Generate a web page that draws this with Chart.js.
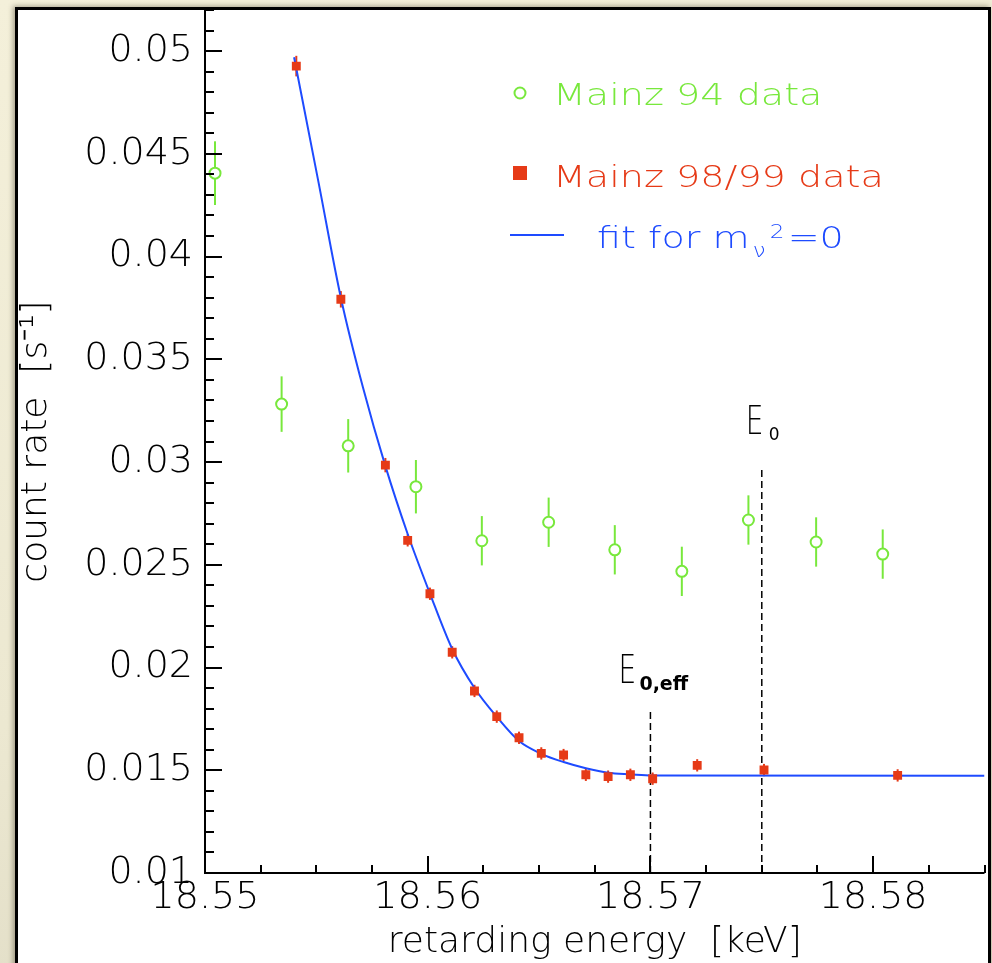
<!DOCTYPE html>
<html>
<head>
<meta charset="utf-8">
<script src="https://cdn.jsdelivr.net/npm/chart.js@4.4.1/dist/chart.umd.min.js"></script>
<style>
  html, body { margin: 0; padding: 0; }
  body {
    width: 992px; height: 963px; overflow: hidden; position: relative;
    background: linear-gradient(160deg, #f4f0da 0%, #ece8d1 55%, #d8d4be 100%);
  }
  #frame {
    position: absolute; left: 15px; top: 7px; width: 976px; height: 990px;
    box-sizing: border-box; border: 3px solid #000; background: #fff;
    box-shadow: -2px -1px 5px rgba(70, 65, 45, 0.45);
  }
  #plot { position: absolute; left: 0; top: 0; }
</style>
</head>
<body>
<div id="frame"></div>
<canvas id="plot" width="992" height="963"></canvas>
<script>
// Mainz 94 data (open circles)
const m94Energy = [18.55045, 18.55344, 18.55643, 18.55947, 18.56243, 18.56543, 18.5684, 18.57141, 18.5744, 18.57744, 18.58043];
const m94Rate   = [0.04406, 0.03282, 0.03079, 0.0288, 0.02617, 0.02707, 0.02573, 0.02468, 0.02718, 0.02611, 0.02552];
const m94Err    = [0.00155, 0.00135, 0.0013, 0.0013, 0.0012, 0.0012, 0.0012, 0.0012, 0.0012, 0.0012, 0.0012];

// Mainz 98/99 data (filled squares)
const m98Energy = [18.5541, 18.5561, 18.5581, 18.5591, 18.5601, 18.5611, 18.5621, 18.5631, 18.5641,
                   18.5651, 18.5661, 18.5671, 18.5681, 18.5691, 18.5701, 18.5721, 18.5751, 18.5811];
const m98Rate   = [0.04927, 0.03792, 0.02985, 0.02619, 0.02359, 0.02074, 0.01886, 0.01761, 0.01658,
                   0.01582, 0.01574, 0.01478, 0.01469, 0.01478, 0.01459, 0.01524, 0.01501, 0.01475];
const m98Err    = [0.0005, 0.0004, 0.00035, 0.0003, 0.0003, 0.0003, 0.0003, 0.0003, 0.0003,
                   0.0003, 0.0003, 0.0003, 0.0003, 0.0003, 0.0003, 0.0003, 0.0003, 0.0003];

// fit curve for m_nu^2 = 0
const fitEnergy = [18.5540, 18.5551, 18.5561, 18.5571, 18.5581, 18.5591, 18.5601, 18.5611, 18.5621,
                   18.5631, 18.5641, 18.5651, 18.5661, 18.5671, 18.5681, 18.5691, 18.5701, 18.5850];
const fitRate   = [0.0497, 0.0436, 0.0380, 0.0336, 0.0298, 0.0265, 0.0236, 0.0209, 0.0190,
                   0.0176, 0.01642, 0.0158, 0.0154, 0.0151, 0.01488, 0.0148, 0.01474, 0.01473];

// endpoint markers E0,eff and E0
const markerEnergy = [18.570, 18.575];
const markerTop    = [0.0180, 0.0298];
const markerSub    = ['0,eff', '0'];

// axes
const xTickValues = [18.55, 18.56, 18.57, 18.58];
const xTickLabels = ['18.55', '18.56', '18.57', '18.58'];
const yTickValues = [0.01, 0.015, 0.02, 0.025, 0.03, 0.035, 0.04, 0.045, 0.05];
const yTickLabels = ['0.01', '0.015', '0.02', '0.025', '0.03', '0.035', '0.04', '0.045', '0.05'];
const X_MIN = 18.55, X_MAX = 18.585, Y_MIN = 0.01, Y_MAX = 0.052;

const GREEN = '#78e83c';
const RED = '#e63a17';
const BLUE = '#1e4bff';
const FAMILY = "'DejaVu Sans', sans-serif";

const toPoints = (xs, ys) => xs.map((x, i) => ({ x: x, y: ys[i] }));

// vertical error bars, drawn under the markers
const errorBars = {
  id: 'errorBars',
  beforeDatasetsDraw(chart) {
    const { ctx, scales: { x, y } } = chart;
    chart.data.datasets.forEach(ds => {
      if (!ds.errors) return;
      ctx.save();
      ctx.strokeStyle = ds.borderColor;
      ctx.lineWidth = 2;
      ds.data.forEach((p, i) => {
        const px = x.getPixelForValue(p.x);
        ctx.beginPath();
        ctx.moveTo(px, y.getPixelForValue(p.y - ds.errors[i]));
        ctx.lineTo(px, y.getPixelForValue(p.y + ds.errors[i]));
        ctx.stroke();
      });
      ctx.restore();
    });
  }
};

// axis lines with inward ticks
const rootAxes = {
  id: 'rootAxes',
  afterDatasetsDraw(chart) {
    const { ctx, chartArea: a, scales: { x, y } } = chart;
    ctx.save();
    ctx.strokeStyle = '#000';
    ctx.lineWidth = 2;
    ctx.beginPath();
    ctx.moveTo(a.left, a.top);
    ctx.lineTo(a.left, a.bottom);
    ctx.lineTo(a.right, a.bottom);
    for (let k = 0; Y_MIN + k * 0.001 <= Y_MAX + 1e-9; k++) {
      const py = Math.round(y.getPixelForValue(Y_MIN + k * 0.001));
      ctx.moveTo(a.left, py);
      ctx.lineTo(a.left + (k % 5 === 0 ? 17 : 9), py);
    }
    for (let k = 0; X_MIN + k * 0.0025 <= X_MAX + 1e-9; k++) {
      const px = Math.round(x.getPixelForValue(X_MIN + k * 0.0025));
      ctx.moveTo(px, a.bottom);
      ctx.lineTo(px, a.bottom - (k % 4 === 0 ? 17 : 8));
    }
    ctx.stroke();
    ctx.restore();
  }
};

function wideText(ctx, text, x, y, sx) {
  ctx.save();
  ctx.translate(x, y);
  ctx.scale(sx, 1);
  ctx.fillText(text, 0, 0);
  ctx.restore();
  return ctx.measureText(text).width * sx;
}

// legend box and endpoint labels
const annotations = {
  id: 'annotations',
  afterDraw(chart) {
    const { ctx, scales: { x, y } } = chart;
    ctx.save();
    ctx.textBaseline = 'alphabetic';
    ctx.textAlign = 'left';

    // legend
    const legFont = '200 30px ' + FAMILY;
    const legSub = '200 20px ' + FAMILY;
    const SX = 1.27;
    ctx.lineWidth = 2;
    ctx.strokeStyle = GREEN;
    ctx.fillStyle = '#fff';
    ctx.beginPath();
    ctx.arc(520, 93, 5.5, 0, Math.PI * 2);
    ctx.fill();
    ctx.stroke();
    ctx.font = legFont;
    ctx.fillStyle = GREEN;
    wideText(ctx, 'Mainz 94 data', 553, 105, SX);

    ctx.fillStyle = RED;
    ctx.fillRect(513, 166, 14, 14);
    wideText(ctx, 'Mainz 98/99 data', 553, 187, SX);

    ctx.strokeStyle = BLUE;
    ctx.beginPath();
    ctx.moveTo(510, 235);
    ctx.lineTo(564, 235);
    ctx.stroke();
    ctx.fillStyle = BLUE;
    const cx = 597 + wideText(ctx, 'fit for m', 597, 248, SX);
    ctx.font = legSub;
    wideText(ctx, 'ν', cx + 3, 257, 1.15);
    wideText(ctx, '2', cx + 20, 238, 1.15);
    ctx.font = legFont;
    wideText(ctx, '=0', cx + 38, 248, SX);

    // endpoint labels above the dashed lines
    ctx.fillStyle = '#000';
    markerEnergy.forEach((e, i) => {
      const px = x.getPixelForValue(e);
      const py = y.getPixelForValue(markerTop[i]);
      ctx.font = '200 39px ' + FAMILY;
      if (i === 0) {
        wideText(ctx, 'E', px - 32, py - 26, 0.72);
        ctx.font = 'bold 19px ' + FAMILY;
        ctx.fillText(markerSub[i], px - 11, py - 19);
      } else {
        wideText(ctx, 'E', px - 16, py - 32, 0.72);
        ctx.font = '17px ' + FAMILY;
        ctx.fillText(markerSub[i], px + 7, py - 26);
      }
    });
    ctx.restore();
  }
};

const tickFont = { family: FAMILY, size: 38, weight: '200' };
const titleFont = { family: FAMILY, size: 36, weight: '200', lineHeight: 1.1 };

const datasets = [
  {
    label: 'Mainz 98/99 data',
    data: toPoints(m98Energy, m98Rate),
    errors: m98Err,
    pointStyle: 'rect',
    pointRadius: 6.3,
    pointBorderWidth: 0,
    borderColor: RED,
    backgroundColor: RED,
    showLine: false
  },
  {
    label: 'Mainz 94 data',
    data: toPoints(m94Energy, m94Rate),
    errors: m94Err,
    pointStyle: 'circle',
    pointRadius: 5.5,
    pointBorderWidth: 2,
    borderColor: GREEN,
    backgroundColor: '#fff',
    showLine: false
  },
  {
    label: 'fit',
    data: toPoints(fitEnergy, fitRate),
    showLine: true,
    pointRadius: 0,
    borderColor: BLUE,
    borderWidth: 2,
    cubicInterpolationMode: 'monotone',
    fill: false
  }
];
markerEnergy.forEach((e, i) => {
  datasets.push({
    label: 'E' + markerSub[i],
    data: [{ x: e, y: Y_MIN }, { x: e, y: markerTop[i] }],
    showLine: true,
    pointRadius: 0,
    borderColor: '#000',
    borderWidth: 1.5,
    borderDash: [7, 4],
    fill: false
  });
});

new Chart(document.getElementById('plot'), {
  type: 'scatter',
  data: { datasets: datasets },
  options: {
    responsive: false,
    animation: false,
    devicePixelRatio: 1,
    layout: { padding: { top: 10, right: 4, left: 0, bottom: 0 } },
    plugins: { legend: { display: false }, tooltip: { enabled: false } },
    scales: {
      x: {
        type: 'linear',
        min: X_MIN,
        max: X_MAX,
        grid: { display: false, drawTicks: false },
        border: { display: false },
        afterBuildTicks: s => { s.ticks = xTickValues.map(v => ({ value: v })); },
        afterFit: s => { s.height = 90; s.paddingLeft = 0; s.paddingRight = 0; },
        ticks: {
          autoSkip: false,
          maxRotation: 0,
          padding: 2,
          color: '#000',
          font: tickFont,
          callback: (v, i) => xTickLabels[i]
        },
        title: {
          display: true,
          text: 'retarding energy  [keV]',
          color: '#000',
          font: titleFont,
          padding: { top: 0, bottom: 1 }
        }
      },
      y: {
        type: 'linear',
        min: Y_MIN,
        max: Y_MAX,
        grid: { display: false, drawTicks: false },
        border: { display: false },
        afterBuildTicks: s => { s.ticks = yTickValues.map(v => ({ value: v })); },
        afterFit: s => { s.width = 205; s.paddingTop = 0; s.paddingBottom = 0; },
        ticks: {
          autoSkip: false,
          padding: 12,
          color: '#000',
          font: tickFont,
          callback: (v, i) => yTickLabels[i]
        },
        title: {
          display: true,
          text: 'count rate  [s⁻¹]',
          color: '#000',
          font: titleFont,
          padding: { top: 17, bottom: 0 }
        }
      }
    }
  },
  plugins: [errorBars, rootAxes, annotations]
});
</script>
</body>
</html>
